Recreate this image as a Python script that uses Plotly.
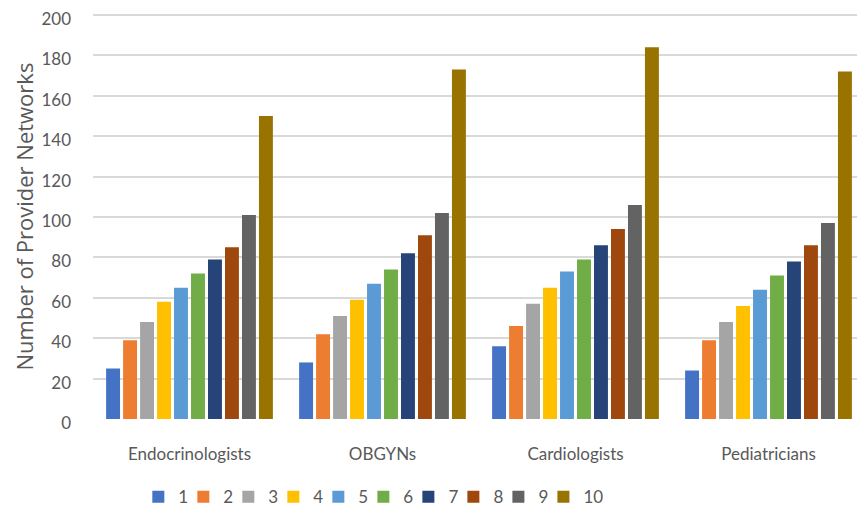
import plotly.graph_objects as go

categories = ["Endocrinologists", "OBGYNs", "Cardiologists", "Pediatricians"]
series_names = ["1", "2", "3", "4", "5", "6", "7", "8", "9", "10"]
s1 = [25, 28, 36, 24]
s2 = [39, 42, 46, 39]
s3 = [48, 51, 57, 48]
s4 = [58, 59, 65, 56]
s5 = [65, 67, 73, 64]
s6 = [72, 74, 79, 71]
s7 = [79, 82, 86, 78]
s8 = [85, 91, 94, 86]
s9 = [101, 102, 106, 97]
s10 = [150, 173, 184, 172]
series_values = [s1, s2, s3, s4, s5, s6, s7, s8, s9, s10]
y_ticks = [0, 20, 40, 60, 80, 100, 120, 140, 160, 180, 200]
y_title = "Number of Provider Networks"

colors = ["#4472C4", "#ED7D31", "#A5A5A5", "#FFC000", "#5B9BD5",
          "#70AD47", "#264478", "#9E480E", "#636363", "#997300"]

fig = go.Figure()
for name, vals, c in zip(series_names, series_values, colors):
    fig.add_trace(go.Bar(x=categories, y=vals, name=name, marker_color=c,
                         marker_line_width=0))
# spacer legend entry so that the last label is not clipped
fig.add_trace(go.Scatter(x=[None], y=[None], mode="markers", name=" ",
                         marker=dict(color="rgba(0,0,0,0)"), hoverinfo="skip"))

fnt = "Lato, Open Sans, sans-serif"
txt = "#595959"
# the page body has an 8px default margin, so margins are reduced by 8px
fig.update_layout(
    width=865, height=513,
    margin=dict(l=85, r=8, t=6, b=100),
    paper_bgcolor="white", plot_bgcolor="white",
    barmode="group", bargap=0.12, bargroupgap=0.18,
    font=dict(family=fnt, color=txt, size=17),
    showlegend=True,
    legend=dict(orientation="h", x=0.0587, xanchor="left", y=-0.193, yanchor="middle",
                font=dict(size=17, color=txt, family=fnt), entrywidth=0.01,
                entrywidthmode="pixels", traceorder="normal",
                bgcolor="rgba(0,0,0,0)"),
    xaxis=dict(showgrid=False, showline=False, ticks="", ticklabelstandoff=23,
               automargin=False, range=[-0.5, 3.5],
               tickfont=dict(size=17, color=txt, family=fnt)),
    yaxis=dict(range=[0, 200.5], tickvals=y_ticks, showgrid=True,
               gridcolor="#D9D9D9", gridwidth=1.5, zeroline=False, automargin=False,
               ticklabelstandoff=21, ticklabelshift=4, ticklabeloverflow="allow",
               tickfont=dict(size=17, color=txt, family=fnt)),
    annotations=[dict(text=y_title, xref="paper", yref="paper", x=0, y=0.5,
                      xshift=-70, xanchor="center", yanchor="middle",
                      textangle=-90, showarrow=False,
                      font=dict(size=22, color=txt, family="Open Sans, sans-serif"))],
)
fig.write_html("out.html")
